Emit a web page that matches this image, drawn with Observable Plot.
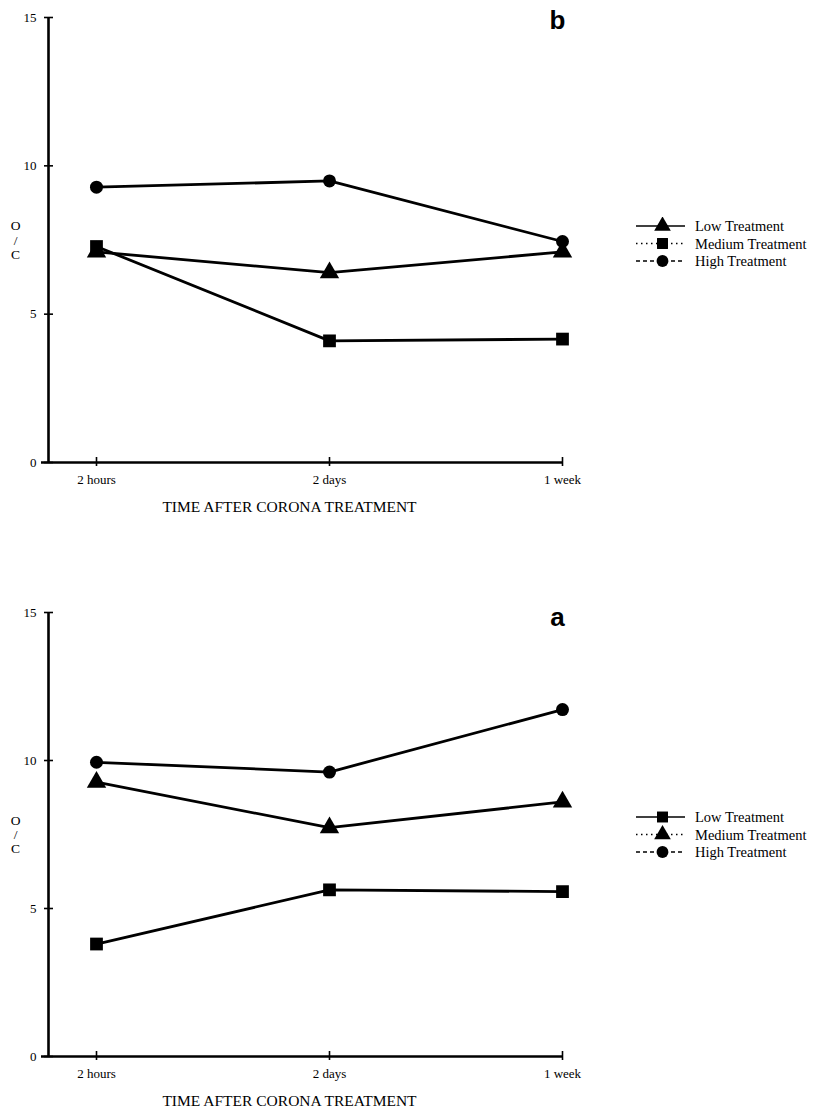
<!DOCTYPE html>
<html>
<head>
<meta charset="utf-8">
<script src="https://cdn.jsdelivr.net/npm/d3@7"></script>
<script src="https://cdn.jsdelivr.net/npm/@observablehq/plot@0.6"></script>
<style>
  html, body { margin: 0; padding: 0; background: #fff; }
  #wrap { position: relative; width: 820px; height: 1113px; overflow: hidden; }
  #wrap svg { display: block; }
  .legend { position: absolute; left: 600px; }
</style>
</head>
<body>
<div id="wrap"></div>
<script>
// ---- data ----
const times = ["2 hours", "2 days", "1 week"];
const yTicks = [0, 5, 10, 15];
const seriesNames = ["Low Treatment", "Medium Treatment", "High Treatment"];

// panel b (top)
const bLow = [7.1, 6.4, 7.1];        // triangles
const bMedium = [7.28, 4.1, 4.16];   // squares
const bHigh = [9.28, 9.49, 7.45];    // circles

// panel a (bottom)
const aLow = [3.8, 5.63, 5.57];      // squares
const aMedium = [9.27, 7.73, 8.6];   // triangles
const aHigh = [9.94, 9.61, 11.72];   // circles

const serif = "'Liberation Serif', 'DejaVu Serif', serif";
const sans = "'Liberation Sans', Arial, sans-serif";
const xMin = -0.206;

function makeRows(low, medium, high, symbols) {
  const rows = [];
  [low, medium, high].forEach((vals, s) => {
    vals.forEach((v, i) => rows.push({series: seriesNames[s], t: i, value: v, symbol: symbols[s]}));
  });
  return rows;
}

function panel({rows, letter, marginTop, marginBottom, height}) {
  const symR = {circle: 6.5, square: 7.2, triangle: 7.2};
  return Plot.plot({
    width: 820,
    height,
    marginLeft: 48,
    marginRight: 258,
    marginTop,
    marginBottom,
    style: {fontFamily: serif, fontSize: "13px", color: "#000", background: "#fff"},
    x: {domain: [xMin, 2], axis: null},
    y: {domain: [0, 15], axis: null},
    marks: [
      // axis lines
      Plot.ruleX([xMin], {y1: 0, y2: 15, stroke: "#000", strokeWidth: 2.6}),
      Plot.ruleY([0], {x1: xMin, x2: 2, stroke: "#000", strokeWidth: 2.6, insetLeft: -7}),
      // crossing ticks
      Plot.ruleY(yTicks, {x1: xMin, x2: xMin, insetLeft: -4, insetRight: -5, stroke: "#000", strokeWidth: 1.6}),
      Plot.ruleX([0, 1, 2], {y1: 0, y2: 0, insetTop: -5, insetBottom: -4, stroke: "#000", strokeWidth: 1.6}),
      // tick labels
      Plot.axisY(yTicks, {tickSize: 0, tickPadding: 12, fontSize: 13, label: null, fontFamily: serif}),
      Plot.axisX([0, 1, 2], {tickSize: 0, tickPadding: 12, fontSize: 13, label: null,
        tickFormat: i => times[i], fontFamily: serif}),
      // axis titles
      Plot.text(["TIME AFTER CORONA TREATMENT"], {frameAnchor: "bottom", dy: 45, dx: -16,
        fontSize: 15.5, fontFamily: serif, lineAnchor: "middle"}),
      Plot.text(["O\n/\nC"], {frameAnchor: "left", dx: -33, fontSize: 13.5, lineHeight: 1.05,
        fontFamily: serif, lineAnchor: "middle", textAnchor: "middle"}),
      // panel letter
      Plot.text([letter], {frameAnchor: "top-right", dx: -5, dy: letter === "b" ? 11 : 13,
        lineAnchor: "bottom", textAnchor: "middle", fontSize: 26, fontWeight: "bold", fontFamily: sans}),
      // data
      Plot.line(rows, {x: "t", y: "value", z: "series", stroke: "#000", strokeWidth: 2.8}),
      ...["circle", "square", "triangle"].map(sym =>
        Plot.dot(rows.filter(d => d.symbol === sym), {x: "t", y: "value", symbol: () => sym,
          r: symR[sym], fill: "#000", stroke: "none"}))
    ]
  });
}

function legend(top, symbols) {
  const div = document.createElement("div");
  div.className = "legend";
  div.style.top = top + "px";
  const svg = d3.select(div).append("svg").attr("width", 220).attr("height", 60);
  const dashes = [null, "1.5,3.5", "4,3"];
  const sym = {circle: d3.symbolCircle, square: d3.symbolSquare, triangle: d3.symbolTriangle};
  const size = {circle: 110, square: 120, triangle: 120};
  seriesNames.forEach((name, i) => {
    const y = 9 + i * 17.5;
    svg.append("line").attr("x1", 36).attr("x2", 85).attr("y1", y).attr("y2", y)
      .attr("stroke", "#000").attr("stroke-width", i === 0 ? 1.6 : 1.3)
      .attr("stroke-dasharray", dashes[i]);
    svg.append("path").attr("d", d3.symbol(sym[symbols[i]], size[symbols[i]])())
      .attr("transform", `translate(62.5,${y})`).attr("fill", "#000");
    svg.append("text").attr("x", 95).attr("y", y).attr("dy", "0.35em")
      .attr("font-family", serif).attr("font-size", 14.5).text(name);
  });
  return div;
}

const wrap = document.getElementById("wrap");
const symB = ["triangle", "square", "circle"];
const symA = ["square", "triangle", "circle"];
wrap.appendChild(panel({rows: makeRows(bLow, bMedium, bHigh, symB), letter: "b",
  marginTop: 17, marginBottom: 60, height: 522}));
wrap.appendChild(panel({rows: makeRows(aLow, aMedium, aHigh, symA), letter: "a",
  marginTop: 90, marginBottom: 57, height: 591}));
wrap.appendChild(legend(217, symB));
wrap.appendChild(legend(808, symA));
</script>
</body>
</html>
